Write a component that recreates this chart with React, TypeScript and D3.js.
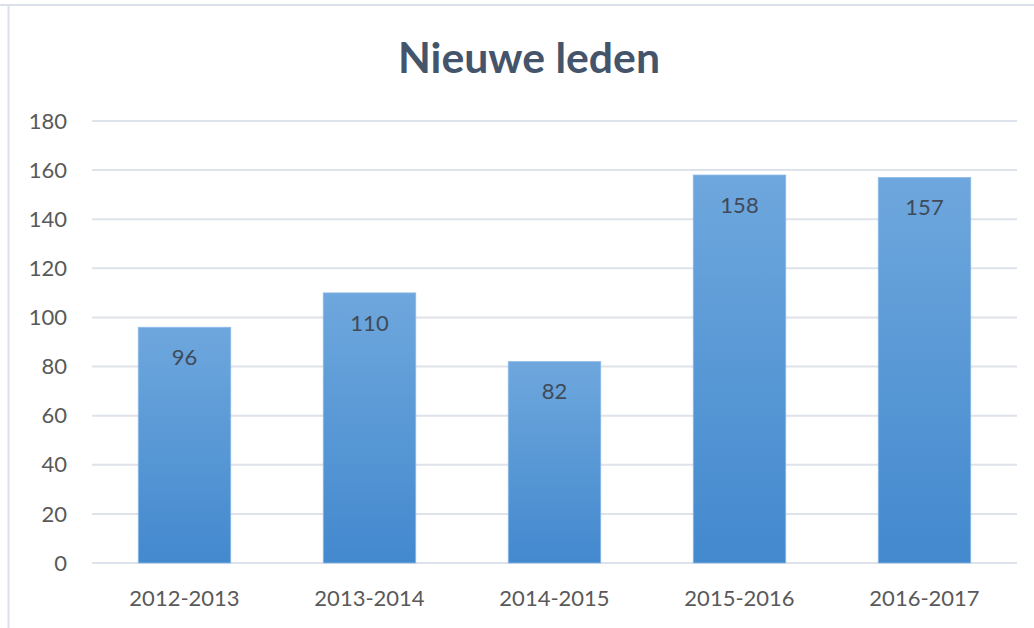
import * as d3 from "d3";

// chart data
const seasons = ["2012-2013", "2013-2014", "2014-2015", "2015-2016", "2016-2017"];
const newMembers = [96, 110, 82, 158, 157];
const yTicks = [0, 20, 40, 60, 80, 100, 120, 140, 160, 180];

const W = 1034;
const H = 628;
const left = 92;
const right = 1017;
const top = 121;
const bottom = 563;
const font = "Lato, 'Open Sans', sans-serif";

export default function App() {
  const x = d3.scaleBand().domain(seasons).range([left, right]).paddingInner(0.5).paddingOuter(0.25);
  const y = d3.scaleLinear().domain([0, 180]).range([bottom, top]);

  return (
    <svg
      width={W}
      height={H}
      style={{ position: "absolute", left: 0, top: 0, background: "#fff" }}
    >
      <defs>
        <linearGradient id="barGrad" x1="0" y1="0" x2="0" y2="1">
          <stop offset="0%" stopColor="#6EA7DD" />
          <stop offset="100%" stopColor="#4389CE" />
        </linearGradient>
      </defs>
      {/* frame (only top and left are visible) */}
      <line x1={0} x2={W} y1={5} y2={5} stroke="#DCE0E8" strokeWidth={2} />
      <line x1={8.5} x2={8.5} y1={5} y2={H} stroke="#DCE0E8" strokeWidth={2} />

      <text
        x={529}
        y={73}
        textAnchor="middle"
        fontFamily={font}
        fontWeight="bold"
        fontSize={42}
        textLength={262}
        lengthAdjust="spacingAndGlyphs"
        fill="#44546A"
      >
        Nieuwe leden
      </text>

      <g>
        {yTicks.map((t) => (
          <g key={t}>
            <line x1={left} x2={right} y1={y(t)} y2={y(t)} stroke="#DEE2EA" strokeWidth={2} />
            <text
              x={67}
              y={y(t)}
              dy="0.35em"
              textAnchor="end"
              fontFamily={font}
              fontSize={22}
              fill="#595959"
            >
              {t}
            </text>
          </g>
        ))}
      </g>

      <g>
        {seasons.map((s, i) => {
          const v = newMembers[i];
          const bx = x(s) as number;
          return (
            <g key={s}>
              <rect
                x={bx}
                y={y(v)}
                width={x.bandwidth()}
                height={bottom - y(v)}
                fill="url(#barGrad)"
                stroke="#8DBBE6"
                strokeWidth={0.8}
              />
              <text
                x={bx + x.bandwidth() / 2}
                y={y(v) + 30}
                dy="0.35em"
                textAnchor="middle"
                fontFamily={font}
                fontSize={22}
                fill="#404A58"
              >
                {v}
              </text>
              <text
                x={bx + x.bandwidth() / 2}
                y={598}
                dy="0.35em"
                textAnchor="middle"
                fontFamily={font}
                fontSize={22}
                fill="#595959"
              >
                {s}
              </text>
            </g>
          );
        })}
      </g>
    </svg>
  );
}
